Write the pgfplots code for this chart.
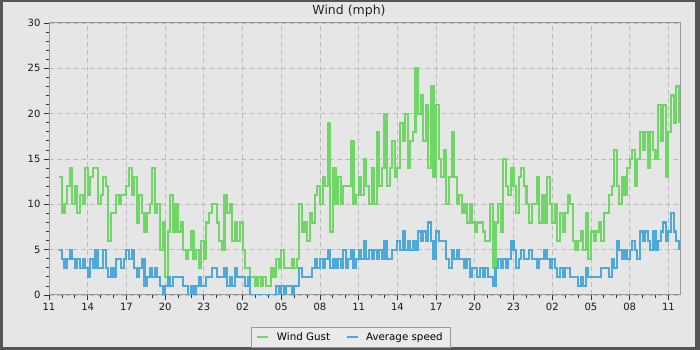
\documentclass[border=0pt]{standalone}
\usepackage{fontspec}
\setmainfont{DejaVu Sans}
\usepackage{pgfplots}
\usepackage{pgfplotstable}
\pgfplotsset{compat=1.18}
\definecolor{bg}{HTML}{E6E6E6}
\definecolor{framec}{HTML}{555555}
\definecolor{gust}{HTML}{70D668}
\definecolor{avg}{HTML}{4EA9DB}
\definecolor{gridc}{HTML}{BDBDBD}
\definecolor{axisc}{HTML}{999999}
\definecolor{legbg}{HTML}{EAEAEA}

\pgfplotstableread{
h g a
0.8 13 5
1.0 9 4
1.2 10 3
1.4 12 4
1.6 14 5
1.8 10 4
2.0 12 3
2.2 9 4
2.4 11 3
2.6 10 4
2.8 14 3
3.0 11 2
3.2 13 4
3.4 14 3
3.6 14 5
3.8 10 3
4.0 11 3
4.2 13 5
4.4 12 3
4.6 6 2
4.8 9 3
5.0 9 2
5.2 11 4
5.4 10 4
5.6 11 3
5.8 11 4
6.0 12 5
6.2 14 4
6.4 11 5
6.6 13 3
6.8 8 2
7.0 11 3
7.2 9 4
7.4 7 1
7.6 9 2
7.8 10 3
8.0 14 2
8.2 9 3
8.4 10 2
8.6 5 1
8.8 8 0
9.0 2 1
9.2 7 2
9.4 11 1
9.6 7 2
9.8 10 2
10.0 7 2
10.2 8 2
10.4 5 1
10.6 4 1
10.8 5 0
11.0 7 1
11.2 4 0
11.4 5 1
11.6 3 2
11.8 6 1
12.0 4 1
12.2 8 2
12.4 9 2
12.6 10 3
12.8 10 3
13.0 8 2
13.2 6 2
13.4 5 2
13.6 11 3
13.8 9 1
14.0 10 2
14.2 6 1
14.4 8 3
14.6 6 2
14.8 8 2
15.0 5 2
15.2 3 1
15.4 3 2
15.6 2 0
15.8 2 0
16.0 1 0
16.2 2 0
16.4 1 0
16.6 2 0
16.8 1 0
17.0 1 0
17.2 3 0
17.4 2 0
17.6 4 1
17.8 3 0
18.0 5 1
18.2 3 0
18.4 3 1
18.6 3 1
18.8 4 0
19.0 3 1
19.2 4 1
19.4 10 3
19.6 7 2
19.8 8 2
20.0 6 2
20.2 9 2
20.4 8 3
20.6 11 4
20.8 12 3
21.0 10 4
21.2 13 3
21.4 12 4
21.6 19 5
21.8 7 3
22.0 14 4
22.2 10 3
22.4 13 4
22.6 10 3
22.8 12 5
23.0 12 3
23.2 12 4
23.4 17 5
23.6 10 3
23.8 11 4
24.0 13 5
24.2 11 4
24.4 15 6
24.6 12 4
24.8 10 5
25.0 14 4
25.2 10 5
25.4 18 4
25.6 12 5
25.8 14 4
26.0 20 6
26.2 12 4
26.4 14 4
26.6 17 5
26.8 13 5
27.0 14 6
27.2 19 5
27.4 17 7
27.6 20 5
27.8 14 6
28.0 17 5
28.2 18 6
28.4 25 5
28.6 20 7
28.8 22 6
29.0 17 7
29.2 21 6
29.4 14 8
29.6 23 6
29.8 13 4
30.0 21 7
30.2 15 6
30.4 13 6
30.6 16 6
30.8 10 4
31.0 13 3
31.2 18 5
31.4 13 4
31.6 10 5
31.8 11 4
32.0 9 4
32.2 10 3
32.4 8 4
32.6 10 2
32.8 8 3
33.0 7 3
33.2 8 2
33.4 8 3
33.6 7 2
33.8 6 3
34.0 6 2
34.2 10 2
34.4 3 1
34.6 8 3
34.8 10 4
35.0 7 3
35.2 15 4
35.4 12 3
35.6 11 4
35.8 14 6
36.0 12 5
36.2 9 3
36.4 13 4
36.6 14 5
36.8 12 4
37.0 10 4
37.2 8 5
37.4 10 4
37.6 10 4
37.8 13 3
38.0 8 4
38.2 11 4
38.4 8 5
38.6 13 4
38.8 10 3
39.0 8 4
39.2 10 3
39.4 6 2
39.6 9 3
39.8 7 2
40.0 9 3
40.2 11 3
40.4 10 2
40.6 6 2
40.8 5 2
41.0 6 1
41.2 7 2
41.4 5 1
41.6 9 3
41.8 4 2
42.0 7 2
42.2 6 2
42.4 7 2
42.6 8 2
42.8 6 3
43.0 9 3
43.2 9 3
43.4 11 2
43.6 12 4
43.8 16 3
44.0 12 6
44.2 10 5
44.4 13 4
44.6 11 5
44.8 14 4
45.0 15 5
45.2 16 6
45.4 12 5
45.6 15 4
45.8 18 7
46.0 16 6
46.2 18 7
46.4 14 6
46.6 18 5
46.8 16 7
47.0 15 5
47.2 21 6
47.4 17 7
47.6 21 8
47.8 13 6
48.0 18 7
48.2 22 9
48.4 19 7
48.6 23 6
48.8 19 5
}\wind

\begin{document}
\begin{tikzpicture}[x=1pt,y=1pt]
\useasboundingbox (0,0) rectangle (700,350);
\fill[framec] (0,0) rectangle (700,350);
\fill[bg] (2.5,2.5) rectangle (695,347.5);
\node[font=\fontsize{12.5}{15}\selectfont, text=black!85] at (349,339) {Wind (mph)};
\begin{axis}[
  at={(49pt,55pt)}, anchor=south west,
  scale only axis, width=631pt, height=272pt,
  xmin=0, xmax=48.9, ymin=0, ymax=30,
  xtick={0,3,...,48},
  xticklabels={11,14,17,20,23,02,05,08,11,14,17,20,23,02,05,08,11},
  minor x tick num=2,
  ytick={0,5,...,30},
  minor y tick num=4,
  grid=major,
  major grid style={gridc, dash pattern=on 5pt off 3pt, line width=0.9pt},
  axis line style={axisc, line width=1pt},
  axis background/.style={fill=bg},
  tick align=outside,
  xtick pos=bottom, ytick pos=left,
  major tick length=5pt, minor tick length=3pt,
  tick style={black!80, line width=0.8pt},
  tick label style={font=\fontsize{10}{12}\selectfont, text=black!90},
  /pgf/number format/assume math mode=true,
  legend columns=2,
  legend cell align=left,
  legend style={at={(0.478,-0.118)}, anchor=north, draw=axisc, fill=legbg,
    font=\fontsize{10.3}{12}\selectfont, inner xsep=5pt, inner ysep=3.5pt,
    /tikz/every odd column/.append style={column sep=5.5pt},
    /tikz/every even column/.append style={column sep=13.5pt}},
  legend image code/.code={\draw[#1, line width=2pt] (0pt,0pt) -- (11pt,0pt);},
]
\addplot[const plot, gust, line width=2.1pt] table[x=h,y=g]{\wind};
\addlegendentry{Wind Gust}
\addplot[const plot, avg, line width=2.1pt] table[x=h,y=a]{\wind};
\addlegendentry{Average speed}
\end{axis}
\end{tikzpicture}
\end{document}
